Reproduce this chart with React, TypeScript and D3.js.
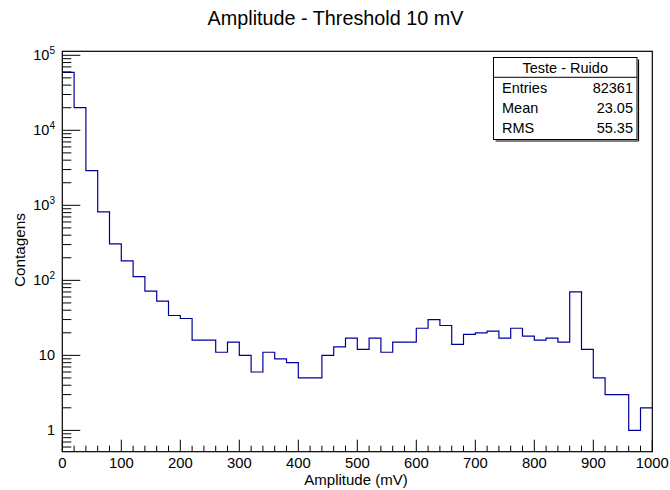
import React from "react";
import * as d3 from "d3";

const binEdgesStart = 0;
const binWidth = 20;
const counts = [
  59000, 20000, 2900, 820, 307, 182, 112, 72, 53, 34,
  31, 16, 16, 11, 15, 10, 6, 11, 9, 8,
  5, 5, 10, 13, 17, 12, 17, 11, 15, 15,
  23, 30, 25, 14, 19, 20, 21, 17, 23, 18,
  16, 17, 15, 70, 12, 5, 3, 3, 1, 2,
];
const xTicks = [0, 100, 200, 300, 400, 500, 600, 700, 800, 900, 1000];
const yDecades = [1, 10, 100, 1000, 10000, 100000];
const statsLabels = ["Entries", "Mean", "RMS"];
const statsValues = ["82361", "23.05", "55.35"];

const FONT = "'Liberation Sans', Arial, Helvetica, sans-serif";

export default function App() {
  const W = 670, H = 490;
  const left = 62.3, right = 652.3, top = 51.3, bottom = 451.7;
  const x = d3.scaleLinear().domain([0, 1000]).range([left, right]);
  const y = d3.scaleLog().domain([0.52, 113000]).range([bottom, top]);

  const pts: [number, number][] = counts.map((c, i) => [binEdgesStart + i * binWidth, c]);
  pts.push([binEdgesStart + counts.length * binWidth, counts[counts.length - 1]]);
  const line = d3
    .line<[number, number]>()
    .x((d) => x(d[0]))
    .y((d) => y(d[1]))
    .curve(d3.curveStepAfter);

  const xMinor: number[] = d3.range(0, 1001, 20).filter((v) => v % 100 !== 0);
  const yMinor: number[] = [];
  for (let e = -1; e <= 5; e++) {
    for (let m = 2; m <= 9; m++) {
      const v = m * Math.pow(10, e);
      if (v >= 0.52 && v <= 113000) yMinor.push(v);
    }
  }

  const supLabel = (v: number) => {
    const e = Math.round(Math.log10(v));
    if (e === 0) return <tspan>1</tspan>;
    if (e === 1) return <tspan>10</tspan>;
    return (
      <>
        <tspan>10</tspan>
        <tspan fontSize={10} dy={-6}>{e}</tspan>
      </>
    );
  };

  const bx0 = 493.5, bx1 = 637, by0 = 57.5, by1 = 139.5, sep = 77.3;

  return (
    <svg width={W} height={H} style={{ position: "absolute", left: 0, top: 0, background: "#fff" }} fontFamily={FONT}>
      <rect x={0} y={0} width={W} height={H} fill="#fff" />
      <text x={335.5} y={25} textAnchor="middle" fontSize={19.8} fill="#000">
        Amplitude - Threshold 10 mV
      </text>

      <path d={line(pts) || ""} fill="none" stroke="#000099" strokeWidth={1.2} />

      <rect x={left} y={top} width={right - left} height={bottom - top} fill="none" stroke="#000" strokeWidth={1.2} />

      {xTicks.map((v) => (
        <g key={"xt" + v}>
          <line x1={x(v)} x2={x(v)} y1={bottom} y2={bottom - 12} stroke="#000" strokeWidth={1} />
          <text x={x(v)} y={467.5} textAnchor="middle" fontSize={14.8} fill="#000">
            {v}
          </text>
        </g>
      ))}
      {xMinor.map((v) => (
        <line key={"xm" + v} x1={x(v)} x2={x(v)} y1={bottom} y2={bottom - 6} stroke="#000" strokeWidth={1} />
      ))}

      {yDecades.map((v) => (
        <g key={"yt" + v}>
          <line x1={left} x2={left + 18} y1={y(v)} y2={y(v)} stroke="#000" strokeWidth={1} />
          <text x={55} y={y(v) + 5} textAnchor="end" fontSize={14.5} fill="#000">
            {supLabel(v)}
          </text>
        </g>
      ))}
      {yMinor.map((v) => (
        <line key={"ym" + v} x1={left} x2={left + 9} y1={y(v)} y2={y(v)} stroke="#000" strokeWidth={1} />
      ))}

      <text x={356} y={485} textAnchor="middle" fontSize={15} fill="#000">
        Amplitude (mV)
      </text>
      <text transform="translate(25,250) rotate(-90)" textAnchor="middle" fontSize={15.3} fill="#000">
        Contagens
      </text>

      <line x1={bx0 + 2} x2={bx1 + 1.5} y1={by1 + 1.5} y2={by1 + 1.5} stroke="#000" strokeWidth={1.2} />
      <line x1={bx1 + 1.5} x2={bx1 + 1.5} y1={by0 + 2} y2={by1 + 1.5} stroke="#000" strokeWidth={1.2} />
      <rect x={bx0} y={by0} width={bx1 - bx0} height={by1 - by0} fill="#fff" stroke="#000" strokeWidth={1} />
      <line x1={bx0} x2={bx1} y1={sep} y2={sep} stroke="#000" strokeWidth={1} />
      <text x={(bx0 + bx1) / 2} y={73.3} textAnchor="middle" fontSize={14.5} fill="#000">
        Teste - Ruido
      </text>
      {statsLabels.map((l, i) => (
        <g key={l}>
          <text x={502} y={93.3 + i * 20} fontSize={14.5} fill="#000">
            {l}
          </text>
          <text x={633} y={93.3 + i * 20} textAnchor="end" fontSize={14.5} fill="#000">
            {statsValues[i]}
          </text>
        </g>
      ))}
    </svg>
  );
}
